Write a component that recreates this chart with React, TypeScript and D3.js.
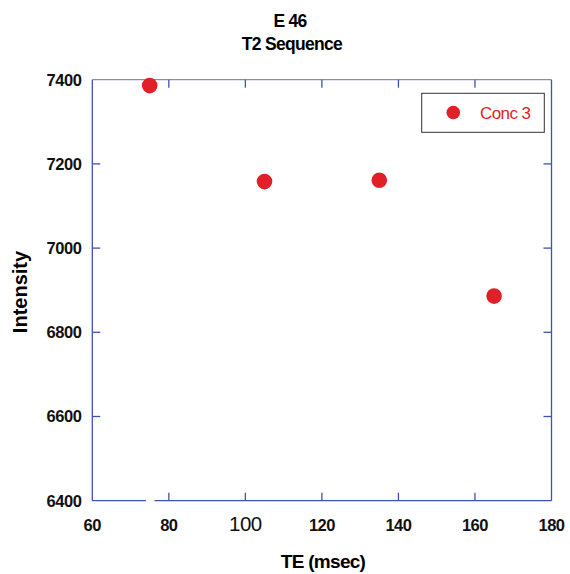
import React from "react";
import * as d3 from "d3";

const teValues = [75, 105, 135, 165];
const intensityValues = [7386, 7158, 7161, 6886];
const xTicks = [60, 80, 100, 120, 140, 160, 180];
const yTicks = [6400, 6600, 6800, 7000, 7200, 7400];
const seriesName = "Conc 3";
const titleLines = ["E 46", "T2 Sequence"];

const W = 570;
const H = 574;
const M = { left: 92.3, right: 551.5, top: 79.7, bottom: 500.7 };
const AXIS = "#4052b0";
const RED = "#e01f26";
const FONT = "'Liberation Sans', Arial, sans-serif";

export default function App() {
  const x = d3.scaleLinear().domain([60, 180]).range([M.left, M.right]);
  const y = d3.scaleLinear().domain([6400, 7400]).range([M.bottom, M.top]);
  const gapC = x(75.2);
  const tick = 8;
  return (
    <svg
      width={W}
      height={H}
      style={{ position: "absolute", left: 0, top: 0, background: "#fff" }}
      fontFamily={FONT}
    >
      {/* titles */}
      <text x={290} y={27} textAnchor="middle" fontSize={17.5} fontWeight="bold" letterSpacing={-0.8}>
        {titleLines[0]}
      </text>
      <text x={292} y={50} textAnchor="middle" fontSize={17.5} fontWeight="bold" letterSpacing={-0.7}>
        {titleLines[1]}
      </text>

      {/* frame */}
      <g stroke={AXIS} strokeWidth={1.3} fill="none">
        <line x1={M.left} x2={M.right} y1={M.top} y2={M.top} stroke="#7f8cc8" />
        <line x1={M.left} x2={M.left} y1={M.top} y2={M.bottom} />
        <line x1={M.right} x2={M.right} y1={M.top} y2={M.bottom} />
        <line x1={M.left} x2={gapC - 4.5} y1={M.bottom} y2={M.bottom} />
        <line x1={gapC + 4} x2={M.right} y1={M.bottom} y2={M.bottom} />
        {xTicks.slice(1, -1).map((t) => (
          <g key={"xt" + t}>
            <line x1={x(t)} x2={x(t)} y1={M.bottom} y2={M.bottom - tick} />
            <line x1={x(t)} x2={x(t)} y1={M.top} y2={M.top + tick} />
          </g>
        ))}
        {yTicks.slice(1, -1).map((t) => (
          <g key={"yt" + t}>
            <line x1={M.left} x2={M.left + tick} y1={y(t)} y2={y(t)} />
            <line x1={M.right} x2={M.right - tick} y1={y(t)} y2={y(t)} />
          </g>
        ))}
      </g>

      {/* tick labels */}
      {xTicks.map((t) => (
        <text
          key={"xl" + t}
          x={x(t)}
          y={531}
          textAnchor="middle"
          fontSize={t === 100 ? 20.5 : 16.5}
          fontWeight={t === 100 ? "normal" : "bold"}
          letterSpacing={-0.5}
          fill="#111"
        >
          {t}
        </text>
      ))}
      {yTicks.map((t) => (
        <text
          key={"yl" + t}
          x={81.5}
          y={y(t)}
          dy="0.36em"
          textAnchor="end"
          fontSize={16.5}
          fontWeight="bold"
          letterSpacing={-0.4}
          fill="#111"
        >
          {t}
        </text>
      ))}

      {/* axis labels */}
      <text x={323} y={568} textAnchor="middle" fontSize={19} fontWeight="bold" letterSpacing={-0.7}>
        TE (msec)
      </text>
      <text
        transform={`translate(27, ${292}) rotate(-90)`}
        textAnchor="middle"
        fontSize={20}
        fontWeight="bold"
        letterSpacing={0}
      >
        Intensity
      </text>

      {/* points */}
      {teValues.map((v, i) => (
        <circle key={"p" + i} cx={x(v)} cy={y(intensityValues[i])} r={7.8} fill={RED} />
      ))}

      {/* legend */}
      <rect x={421.7} y={93.3} width={122.6} height={39} fill="#fff" stroke="#333" strokeWidth={1} />
      <circle cx={453.3} cy={112.5} r={6.8} fill={RED} />
      <text x={480} y={112.5} dy="0.36em" fontSize={17} fill={RED} letterSpacing={-0.6}>
        {seriesName}
      </text>
    </svg>
  );
}
